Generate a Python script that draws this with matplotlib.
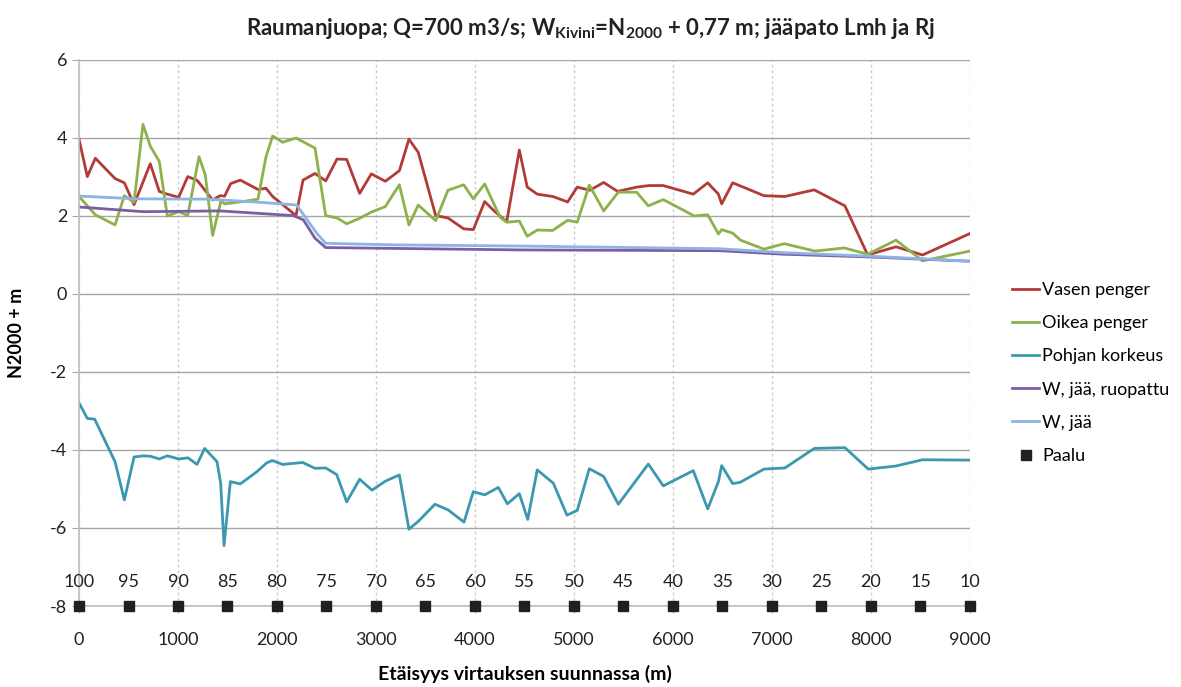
import matplotlib.pyplot as plt

plt.rcParams['font.family'] = ['Lato', 'DejaVu Sans']
plt.rcParams['mathtext.fontset'] = 'custom'
plt.rcParams['mathtext.rm'] = 'Lato'
plt.rcParams['mathtext.bf'] = 'Lato:bold'
plt.rcParams['axes.unicode_minus'] = False

# Vasen penger
vasen_x = [0, 84, 165, 364, 458, 556, 720, 811, 892, 1007, 1098, 1195, 1350, 1424, 1471,
           1532, 1629, 1808, 1889, 1956, 2192, 2263, 2384, 2492, 2606, 2704, 2835, 2953,
           3094, 3236, 3333, 3427, 3603, 3727, 3886, 3983, 4098, 4185, 4320, 4448, 4528,
           4629, 4785, 4936, 5033, 5162, 5300, 5441, 5633, 5758, 5902, 6205, 6351, 6459,
           6492, 6603, 6710, 6919, 7131, 7427, 7737, 7967, 8253, 8522, 9000]
vasen_y = [3.97, 3.01, 3.48, 2.96, 2.85, 2.29, 3.34, 2.63, 2.56, 2.48, 3.01, 2.91, 2.41, 2.52, 2.51,
           2.83, 2.92, 2.68, 2.71, 2.50, 2.01, 2.92, 3.09, 2.90, 3.46, 3.45, 2.58, 3.08,
           2.89, 3.16, 3.97, 3.63, 2.01, 1.95, 1.67, 1.65, 2.37, 2.15, 1.85, 3.69, 2.74,
           2.56, 2.50, 2.36, 2.74, 2.66, 2.86, 2.63, 2.74, 2.78, 2.78, 2.56, 2.85, 2.56,
           2.31, 2.85, 2.74, 2.52, 2.50, 2.67, 2.26, 1.00, 1.21, 1.00, 1.55]

# Oikea penger
oikea_x = [0, 165, 364, 458, 556, 646, 720, 811, 892, 1007, 1098, 1212, 1276, 1350, 1434,
           1471, 1626, 1808, 1889, 1956, 2057, 2192, 2384, 2492, 2606, 2704, 2835, 2953,
           3094, 3236, 3333, 3427, 3603, 3727, 3886, 3983, 4098, 4253, 4320, 4448, 4528,
           4629, 4785, 4936, 5033, 5155, 5300, 5448, 5633, 5751, 5902, 6215, 6351, 6459,
           6492, 6603, 6683, 6919, 7124, 7434, 7730, 7967, 8253, 8522, 9000]
oikea_y = [2.50, 2.03, 1.77, 2.52, 2.35, 4.35, 3.79, 3.40, 2.00, 2.11, 2.01, 3.52, 3.05, 1.50, 2.39,
           2.31, 2.36, 2.43, 3.52, 4.05, 3.89, 4.00, 3.74, 2.01, 1.95, 1.80, 1.94, 2.10,
           2.24, 2.80, 1.77, 2.28, 1.88, 2.66, 2.80, 2.44, 2.82, 1.97, 1.84, 1.87, 1.48,
           1.64, 1.63, 1.89, 1.84, 2.79, 2.13, 2.61, 2.61, 2.26, 2.42, 2.00, 2.03, 1.54,
           1.65, 1.56, 1.38, 1.15, 1.29, 1.10, 1.18, 1.02, 1.38, 0.85, 1.10]

# Pohjan korkeus
pohja_x = [0, 84, 158, 364, 458, 556, 650, 720, 811, 892, 1007, 1101, 1192, 1269, 1394,
           1431, 1465, 1529, 1629, 1795, 1896, 1953, 2057, 2259, 2384, 2492, 2603, 2704,
           2835, 2960, 3094, 3236, 3333, 3427, 3596, 3731, 3889, 3983, 4098, 4236, 4327,
           4448, 4533, 4629, 4791, 4929, 5033, 5155, 5300, 5448, 5751, 5902, 6205, 6351,
           6459, 6492, 6603, 6677, 6919, 7131, 7427, 7737, 7973, 8253, 8522, 9000]
pohja_y = [-2.79, -3.19, -3.21, -4.30, -5.28, -4.18, -4.15, -4.16, -4.23, -4.15, -4.23, -4.20, -4.37, -3.96, -4.30,
           -4.85, -6.45, -4.81, -4.87, -4.56, -4.33, -4.27, -4.37, -4.32, -4.47, -4.46, -4.63, -5.33,
           -4.75, -5.03, -4.80, -4.64, -6.03, -5.83, -5.39, -5.54, -5.85, -5.07, -5.15, -4.96, -5.38,
           -5.12, -5.78, -4.51, -4.85, -5.67, -5.55, -4.48, -4.68, -5.39, -4.36, -4.92, -4.53, -5.51,
           -4.81, -4.40, -4.86, -4.83, -4.49, -4.46, -3.96, -3.94, -4.49, -4.41, -4.25, -4.26]

# W, jää, ruopattu
w_ruop_x = [0, 650, 1424, 2165, 2266, 2384, 2492, 4448, 6474, 7114, 7990, 9000]
w_ruop_y = [2.23, 2.11, 2.13, 2.01, 1.90, 1.43, 1.19, 1.13, 1.11, 1.02, 0.95, 0.84]

# W, jää
w_jaa_x = [0, 580, 1323, 1828, 2199, 2401, 2492, 3175, 4448, 6474, 7114, 7990, 9000]
w_jaa_y = [2.51, 2.44, 2.43, 2.35, 2.28, 1.56, 1.30, 1.26, 1.23, 1.16, 1.06, 0.97, 0.84]

# Paalu
paalu_x = list(range(0, 9001, 500))
paalu_y = [-8] * len(paalu_x)
paalu_labels = [str(100 - 5 * i) for i in range(len(paalu_x))]

fig = plt.figure(figsize=(11.81, 6.87), dpi=100)
ax = fig.add_axes([0.0669, 0.1179, 0.7544, 0.7948])

ax.plot(vasen_x, vasen_y, color='#B23B38', lw=2, label='Vasen penger')
ax.plot(oikea_x, oikea_y, color='#8DB14B', lw=2, label='Oikea penger')
ax.plot(pohja_x, pohja_y, color='#3C98B0', lw=2, label='Pohjan korkeus')
ax.plot(w_ruop_x, w_ruop_y, color='#7B5EA4', lw=2, label='W, jää, ruopattu')
ax.plot(w_jaa_x, w_jaa_y, color='#8DB4E2', lw=2, label='W, jää')
ax.plot(paalu_x, paalu_y, ls='none', marker='s', ms=6.5, color='#231F20',
        clip_on=False, zorder=5, label='Paalu')
for px, py, lab in zip(paalu_x, paalu_y, paalu_labels):
    ax.annotate(lab, (px, py), xytext=(0, 17), textcoords='offset points',
                ha='center', va='center', fontsize=13, color='#222222')

ax.set_xlim(0, 9000)
ax.set_ylim(-8, 6)
ax.set_xticks(range(0, 9001, 1000))
ax.set_yticks(range(-8, 7, 2))
ax.tick_params(axis='both', labelsize=13, colors='#222222', length=5)
ax.tick_params(axis='both', color='#A6A6A6')
ax.tick_params(axis='x', pad=14)

ax.yaxis.grid(True, color='#A6A6A6', lw=1)
ax.xaxis.grid(True, color='#CDCDCD', lw=1, ls=(0, (2, 2)))
ax.set_axisbelow(True)
for s in ['top', 'right']:
    ax.spines[s].set_visible(False)
for s in ['left', 'bottom']:
    ax.spines[s].set_color('#BDBDBD')
    ax.spines[s].set_linewidth(1.2)

ax.set_xlabel('Etäisyys virtauksen suunnassa (m)', fontsize=14, fontweight='bold', labelpad=12)
ax.set_ylabel('N2000 + m', fontsize=13, fontweight='bold', labelpad=18)

fig.text(0.5, 0.958,
         r'Raumanjuopa; Q=700 m3/s; W$_{\mathbf{Kivini}}$=N$_{\mathbf{2000}}$ + 0,77 m; jääpato Lmh ja Rj',
         ha='center', va='center', fontsize=16, fontweight='bold', color='#222222')

fig.legend(loc='center left', bbox_to_anchor=(0.851, 0.457), frameon=False,
           fontsize=13, handlelength=1.5, handletextpad=0.15, labelspacing=0.95,
           borderaxespad=0)

fig.savefig('out.png', dpi=100)
